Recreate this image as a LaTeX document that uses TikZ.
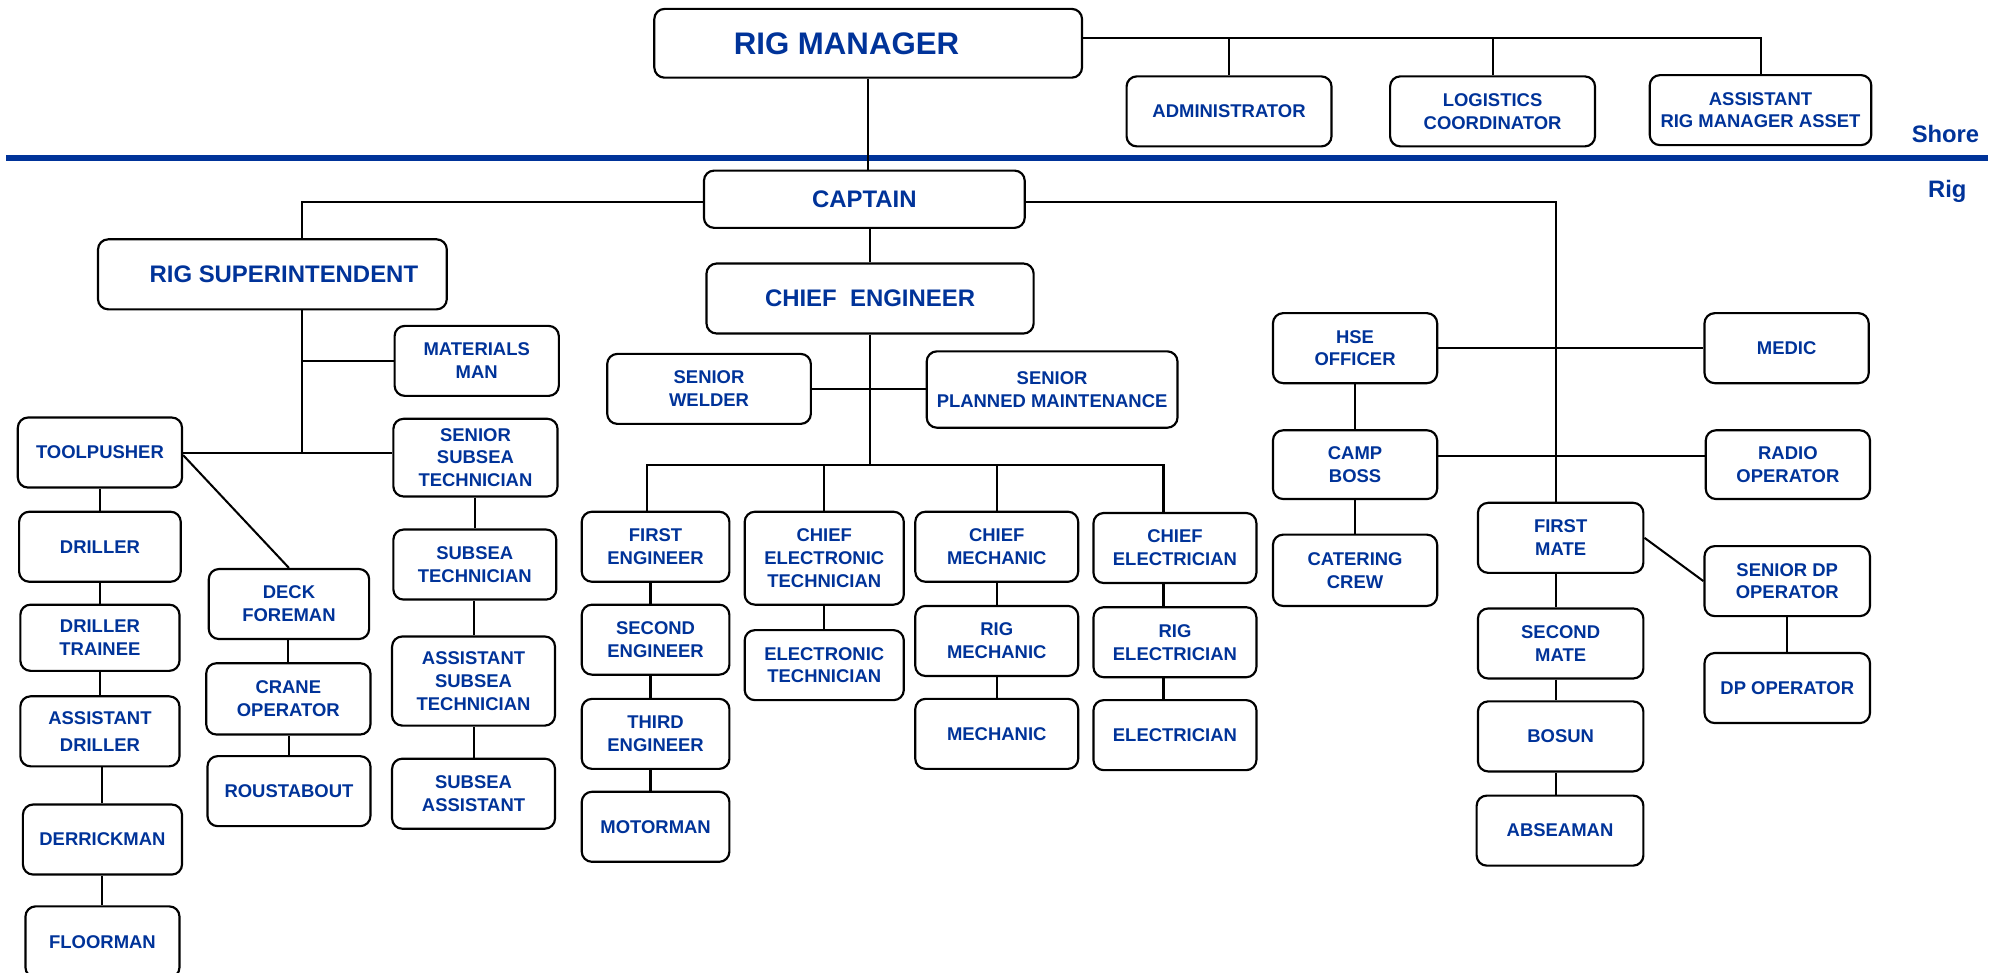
\documentclass[tikz,border=0pt]{standalone}
\usepackage{fontspec}
\setmainfont{Liberation Sans}
\definecolor{orgblue}{RGB}{0,51,153}
\tikzset{
  box/.style={draw=black, line width=1.7pt, rounded corners=8pt, fill=white,
    text=orgblue, font=\fontsize{14.5}{18}\selectfont\bfseries, align=center, inner sep=0pt},
  bigtext/.style={font=\fontsize{18.8}{22}\selectfont\bfseries},
  hugetext/.style={font=\fontsize{24.5}{28}\selectfont\bfseries},
  link/.style={draw=black, line width=1.6pt},
  divider/.style={draw=orgblue, line width=4.2pt},
  zonelabel/.style={text=orgblue, font=\fontsize{18.7}{22}\selectfont\bfseries, inner sep=0pt, anchor=base east}
}
\newcommand{\orgbox}[7][]{%
  \pgfmathsetmacro{\obw}{#5-#3}\pgfmathsetmacro{\obh}{#6-#4}%
  \pgfmathsetmacro{\obx}{(#3+#5)/2}\pgfmathsetmacro{\oby}{(#4+#6)/2}%
  \node[box,minimum width=\obw pt,minimum height=\obh pt,#1] (#2) at (\obx,\oby) {#7};}
\begin{document}
\begin{tikzpicture}[x=1pt,y=-1pt]
\fill[white] (0,0) rectangle (1568,764);
\useasboundingbox (0,0) rectangle (1568,764);

% divider
\draw[divider] (5,124) -- (1562,124);
\node[zonelabel] (shore) at (1555,112) {Shore};
\node[zonelabel] (rig) at (1545,155.5) {Rig};

% shore
\orgbox[hugetext]{rm}{514}{7}{850}{61}{\hspace*{-34pt}RIG MANAGER}
\orgbox{adm}{885}{60}{1046}{115}{ADMINISTRATOR}
\orgbox{log}{1092}{60}{1253}{115}{LOGISTICS\\COORDINATOR}
\orgbox{arm}{1296}{59}{1470}{114}{ASSISTANT\\RIG MANAGER ASSET}

% rig top
\orgbox[bigtext]{cap}{553}{134}{805}{179}{CAPTAIN}
\orgbox[bigtext]{rs}{77}{188}{351}{243}{\hspace*{18pt}RIG SUPERINTENDENT}
\orgbox[bigtext]{ce}{555}{207}{812}{262}{\raisebox{-2pt}{CHIEF\ \ ENGINEER}}

% rig superintendent branch
\orgbox{mm}{310}{256}{439}{311}{MATERIALS\\MAN}
\orgbox{tp}{14}{328}{143}{383}{TOOLPUSHER}
\orgbox{sst}{309}{329}{438}{390}{SENIOR\\SUBSEA\\TECHNICIAN}
\orgbox{dr}{15}{402}{142}{457}{DRILLER}
\orgbox{dt}{16}{475}{141}{527}{DRILLER\\TRAINEE}
\orgbox{ad}{16}{547}{141}{602}{ASSISTANT\\[3pt]DRILLER}
\orgbox{dm}{18}{632}{143}{687}{DERRICKMAN}
\orgbox{fl}{20}{712}{141}{768}{FLOORMAN}
\orgbox{df}{164}{447}{290}{502}{DECK\\FOREMAN}
\orgbox{co}{162}{521}{291}{577}{CRANE\\OPERATOR}
\orgbox{rb}{163}{594}{291}{649}{ROUSTABOUT}
\orgbox{st}{309}{416}{437}{471}{SUBSEA\\TECHNICIAN}
\orgbox{ast}{308}{500}{436}{570}{ASSISTANT\\SUBSEA\\TECHNICIAN}
\orgbox{sa}{308}{596}{436}{651}{SUBSEA\\ASSISTANT}

% chief engineer branch
\orgbox{sw}{477}{278}{637}{333}{SENIOR\\WELDER}
\orgbox{spm}{728}{276}{925}{336}{SENIOR\\PLANNED MAINTENANCE}
\orgbox{fe}{457}{402}{573}{457}{FIRST\\ENGINEER}
\orgbox{se}{457}{475}{573}{530}{SECOND\\ENGINEER}
\orgbox{te}{457}{549}{573}{604}{THIRD\\ENGINEER}
\orgbox{mo}{457}{622}{573}{677}{MOTORMAN}
\orgbox{cet}{585}{402}{710}{475}{CHIEF\\ELECTRONIC\\TECHNICIAN}
\orgbox{et}{585}{495}{710}{550}{ELECTRONIC\\TECHNICIAN}
\orgbox{cmh}{719}{402}{847}{457}{CHIEF\\MECHANIC}
\orgbox{rmh}{719}{476}{847}{531}{RIG\\MECHANIC}
\orgbox{mh}{719}{549}{847}{604}{MECHANIC}
\orgbox{cel}{859}{403}{987}{458}{CHIEF\\ELECTRICIAN}
\orgbox{rel}{859}{477}{987}{532}{RIG\\ELECTRICIAN}
\orgbox{el}{859}{550}{987}{605}{ELECTRICIAN}

% right side
\orgbox{hse}{1000}{246}{1129}{301}{HSE\\OFFICER}
\orgbox{med}{1339}{246}{1468}{301}{MEDIC}
\orgbox{cb}{1000}{338}{1129}{392}{CAMP\\BOSS}
\orgbox{ro}{1340}{338}{1469}{392}{RADIO\\OPERATOR}
\orgbox{cc}{1000}{420}{1129}{476}{CATERING\\CREW}
\orgbox{fm}{1161}{395}{1291}{450}{FIRST\\MATE}
\orgbox{sm}{1161}{478}{1291}{533}{SECOND\\MATE}
\orgbox{bo}{1161}{551}{1291}{606}{BOSUN}
\orgbox{ab}{1160}{625}{1291}{680}{ABSEAMAN}
\orgbox{sdp}{1339}{429}{1469}{484}{SENIOR DP\\OPERATOR}
\orgbox{dp}{1339}{513}{1469}{568}{DP OPERATOR}

% helper coordinates
\coordinate (yrm) at (0,30);
\coordinate (ycap) at (0,159);
\coordinate (xrs) at (237,0);
\coordinate (xfm) at (1222,0);
\coordinate (yeb) at (0,365);
\coordinate (xfe) at (508,0);
\coordinate (xfe2) at (511,0);
\coordinate (xel) at (914,0);

% shore links
\draw[link] (rm.east |- yrm) -- (arm.north |- yrm) -- (arm.north);
\draw[link] (adm.north) -- (adm.north |- yrm);
\draw[link] (log.north) -- (log.north |- yrm);
\draw[link] (rm.south) -- (rm.south |- cap.north);

% captain links
\draw[link] (cap.west |- ycap) -- (xrs |- ycap) -- (xrs |- rs.north);
\draw[link] (cap.east |- ycap) -- (xfm |- ycap) -- (xfm |- fm.north);
\draw[link] (ce.north) -- (ce.north |- cap.south);

% rig superintendent links
\draw[link] (xrs |- rs.south) -- (xrs |- tp.east);
\draw[link] (mm.west) -- (mm.west -| xrs);
\draw[link] (tp.east) -- (tp.east -| sst.west);
\draw[link] ([yshift=-2pt]tp.east) -- (df.north);
\draw[link] (dr.north) -- (dr.north |- tp.south);
\draw[link] (dt.north) -- (dt.north |- dr.south);
\draw[link] (ad.north) -- (ad.north |- dt.south);
\draw[link] (dm.north) -- (dm.north |- ad.south);
\draw[link] (fl.north) -- (fl.north |- dm.south);
\draw[link] (co.north) -- (co.north |- df.south);
\draw[link] (rb.north) -- (rb.north |- co.south);
\draw[link] (st.north) -- (st.north |- sst.south);
\draw[link] (ast.north) -- (ast.north |- st.south);
\draw[link] (sa.north) -- (sa.north |- ast.south);

% chief engineer links
\draw[link] (ce.south) -- (ce.south |- yeb);
\draw[link] (sw.east) -- (sw.east -| spm.west);
\draw[link] (xfe |- fe.north) -- (xfe |- yeb) -- (xel |- yeb) -- (xel |- cel.north);
\draw[link] (cet.north) -- (cet.north |- yeb);
\draw[link] (cmh.north) -- (cmh.north |- yeb);
\draw[link] (xfe2 |- fe.south) -- (xfe2 |- se.north);
\draw[link] (xfe2 |- se.south) -- (xfe2 |- te.north);
\draw[link] (xfe2 |- te.south) -- (xfe2 |- mo.north);
\draw[link] (et.north) -- (et.north |- cet.south);
\draw[link] (rmh.north) -- (rmh.north |- cmh.south);
\draw[link] (mh.north) -- (mh.north |- rmh.south);
\draw[link] (xel |- cel.south) -- (xel |- rel.north);
\draw[link] (xel |- rel.south) -- (xel |- el.north);

% right side links
\draw[link] (hse.east) -- (med.west);
\draw[link] (cb.north) -- (cb.north |- hse.south);
\draw[link] (cc.north) -- (cc.north |- cb.south);
\draw[link] ([yshift=7pt]cb.east) -- ([yshift=7pt]ro.west);
\draw[link] (xfm |- fm.south) -- (xfm |- sm.north);
\draw[link] (xfm |- sm.south) -- (xfm |- bo.north);
\draw[link] (xfm |- bo.south) -- (xfm |- ab.north);
\draw[link] (fm.east) -- (sdp.west);
\draw[link] (dp.north) -- (dp.north |- sdp.south);
\end{tikzpicture}
\end{document}
